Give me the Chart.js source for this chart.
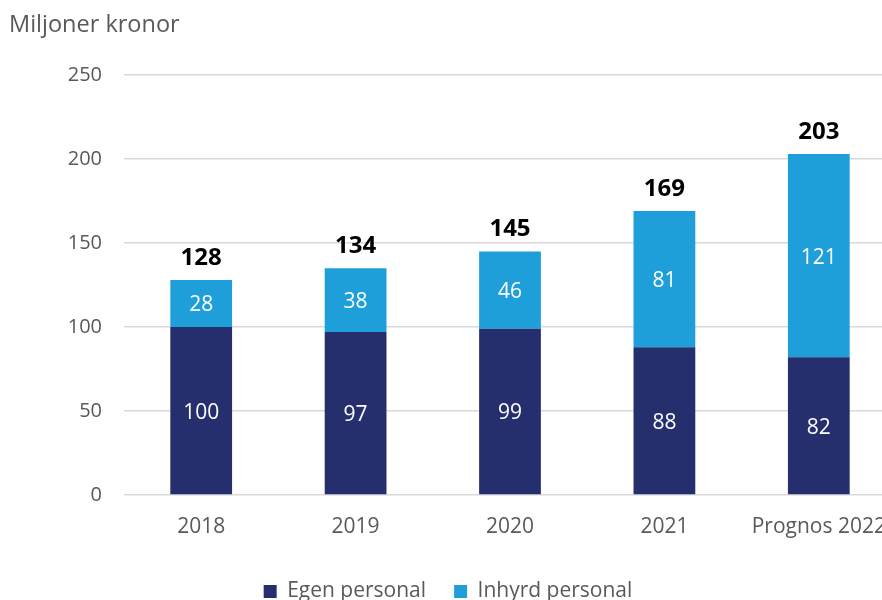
<!DOCTYPE html>
<html>
<head>
<meta charset="utf-8">
<script src="https://cdn.jsdelivr.net/npm/chart.js@4/dist/chart.umd.min.js"></script>
<style>
  html, body { margin: 0; padding: 0; background: #fff; overflow: hidden; }
  #wrap { width: 896px; height: 615px; }
</style>
</head>
<body>
<div id="wrap"><canvas id="kostnad-chart"></canvas></div>
<script>
var years = ['2018', '2019', '2020', '2021', 'Prognos 2022'];
var egen = [100, 97, 99, 88, 82];
var inhyrd = [28, 38, 46, 81, 121];
var totals = [128, 134, 145, 169, 203];
var yTicks = [0, 50, 100, 150, 200, 250];

var fontName = "'Open Sans', 'Noto Sans', sans-serif";

// labels inside segments and totals on top
var labelPlugin = {
    id: 'barLabels',
    afterDatasetsDraw: function (chart) {
        var ctx = chart.ctx;
        ctx.save();
        ctx.textAlign = 'center';
        ctx.textBaseline = 'middle';
        chart.data.datasets.forEach(function (ds, i) {
            var meta = chart.getDatasetMeta(i);
            ctx.fillStyle = '#ffffff';
            ctx.font = '21px ' + fontName;
            meta.data.forEach(function (bar, j) {
                var mid = (bar.y + bar.base) / 2;
                ctx.fillText(ds.data[j], bar.x, mid + 2);
            });
        });
        var top = chart.getDatasetMeta(1);
        ctx.fillStyle = '#000000';
        ctx.font = 'bold 24px ' + fontName;
        top.data.forEach(function (bar, j) {
            ctx.fillText(totals[j], bar.x, bar.y - 22);
        });
        // unit title
        ctx.textAlign = 'left';
        ctx.fillStyle = '#595959';
        ctx.font = '23.5px ' + fontName;
        ctx.fillText('Miljoner kronor', 9, 25);
        ctx.restore();
    }
};

var ctx = document.getElementById('kostnad-chart').getContext('2d');
var myChart = new Chart(ctx, {
    type: 'bar',
    data: {
        labels: years,
        datasets: [
            {
                label: 'Egen personal',
                data: egen,
                backgroundColor: '#262f6e'
            },
            {
                label: 'Inhyrd personal',
                data: inhyrd,
                backgroundColor: '#1e9fda'
            }
        ]
    },
    options: {
        responsive: true,
        maintainAspectRatio: false,
        animation: false,
        layout: { padding: { top: 75, left: 0, right: 0, bottom: 3 } },
        datasets: {
            bar: { categoryPercentage: 1, barPercentage: 0.4 }
        },
        scales: {
            x: {
                stacked: true,
                grid: { display: false, drawTicks: false },
                border: { display: false },
                ticks: {
                    color: '#595959',
                    font: { family: fontName, size: 21 },
                    padding: 19
                },
                afterFit: function (scale) {
                    scale.height = 58;
                    scale.paddingLeft = 0;
                    scale.paddingRight = 0;
                }
            },
            y: {
                stacked: true,
                min: 0,
                max: 250,
                afterBuildTicks: function (scale) {
                    scale.ticks = yTicks.map(function (v) { return { value: v }; });
                },
                grid: { color: '#d9d9d9', lineWidth: 1.5, drawTicks: false },
                border: { display: false },
                ticks: {
                    color: '#595959',
                    font: { family: fontName, size: 20 },
                    padding: 22
                },
                afterFit: function (scale) { scale.width = 124; }
            }
        },
        plugins: {
            legend: {
                position: 'bottom',
                labels: {
                    color: '#595959',
                    font: { family: fontName, size: 21 },
                    boxWidth: 13,
                    boxHeight: 13,
                    padding: 28
                }
            },
            tooltip: { enabled: false }
        }
    },
    plugins: [labelPlugin]
});
</script>
</body>
</html>
